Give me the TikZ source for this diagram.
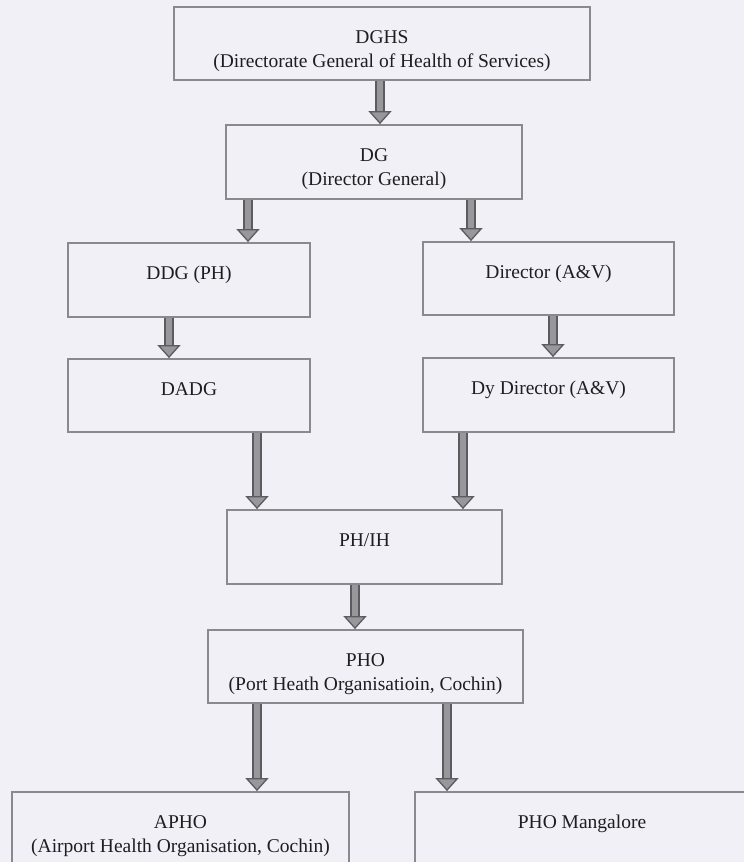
\documentclass[tikz,border=0pt]{standalone}
\usepackage{fontspec}
\setmainfont{Liberation Serif}
\usetikzlibrary{arrows.meta}

\definecolor{paper}{RGB}{242,240,247}
\definecolor{boxline}{RGB}{138,138,142}
\definecolor{arrowfill}{RGB}{152,152,156}
\definecolor{arrowedge}{RGB}{92,92,96}
\definecolor{ink}{RGB}{30,30,32}

\tikzset{
    orgbox/.style={draw=boxline, line width=1.8pt, fill=paper, text=ink,
        align=center, font=\fontsize{19.5}{24}\selectfont,
        text height=47pt, text depth=0pt},
    fatarrow/.style={draw=arrowedge, line width=1.3pt, double=arrowfill,
        double distance=6.5pt,
        -{Triangle[width=23pt, length=13pt, fill=arrowfill]}}
}

\begin{document}
\begin{tikzpicture}[x=1pt, y=-1pt]
    \useasboundingbox (0,0) rectangle (744,862);
    \clip (0,0) rectangle (744,862);
    \fill[paper] (0,0) rectangle (744,862);

    % 上层
    \node[orgbox, minimum width=416pt, minimum height=73pt] (dghs) at (382,43.5)
        {DGHS\\(Directorate General of Health of Services)};
    \node[orgbox, minimum width=296pt, minimum height=74pt] (dg) at (374,162)
        {DG\\(Director General)};

    % 两个分支
    \node[orgbox, minimum width=242pt, minimum height=74pt] (ddg) at (189,280)
        {DDG (PH)\\\mbox{}};
    \node[orgbox, minimum width=251pt, minimum height=73pt] (dir) at (548.5,278.5)
        {Director (A\&V)\\\mbox{}};
    \node[orgbox, minimum width=242pt, minimum height=73pt] (dadg) at (189,395.5)
        {DADG\\\mbox{}};
    \node[orgbox, minimum width=251pt, minimum height=74pt] (dydir) at (548.5,395)
        {Dy Director (A\&V)\\\mbox{}};

    % 下层
    \node[orgbox, minimum width=275pt, minimum height=74pt] (phih) at (364.5,547)
        {PH/IH\\\mbox{}};
    \node[orgbox, minimum width=315pt, minimum height=73pt] (pho) at (365.5,666.5)
        {PHO\\(Port Heath Organisatioin, Cochin)};
    \node[orgbox, minimum width=337pt, minimum height=74pt] (apho) at (180.5,829)
        {APHO\\(Airport Health Organisation, Cochin)};
    \node[orgbox, minimum width=334pt, minimum height=74pt] (phom) at (582,829)
        {PHO Mangalore\\\mbox{}};

    % 箭头所在的竖线
    \coordinate (xtop) at (380,0);
    \coordinate (xddg) at (248,0);
    \coordinate (xdir) at (471,0);
    \coordinate (xdadg) at (169,0);
    \coordinate (xdydir) at (553,0);
    \coordinate (xleft) at (257,0);
    \coordinate (xright) at (463,0);
    \coordinate (xphih) at (355,0);
    \coordinate (xapho) at (257,0);
    \coordinate (xphom) at (447,0);

    \draw[fatarrow] (dghs.south -| xtop) -- (dg.north -| xtop);
    \draw[fatarrow] (dg.south -| xddg) -- (ddg.north -| xddg);
    \draw[fatarrow] (dg.south -| xdir) -- (dir.north -| xdir);
    \draw[fatarrow] (ddg.south -| xdadg) -- (dadg.north -| xdadg);
    \draw[fatarrow] (dir.south -| xdydir) -- (dydir.north -| xdydir);
    \draw[fatarrow] (dadg.south -| xleft) -- (phih.north -| xleft);
    \draw[fatarrow] (dydir.south -| xright) -- (phih.north -| xright);
    \draw[fatarrow] (phih.south -| xphih) -- (pho.north -| xphih);
    \draw[fatarrow] (pho.south -| xapho) -- (apho.north -| xapho);
    \draw[fatarrow] (pho.south -| xphom) -- (phom.north -| xphom);
\end{tikzpicture}
\end{document}
